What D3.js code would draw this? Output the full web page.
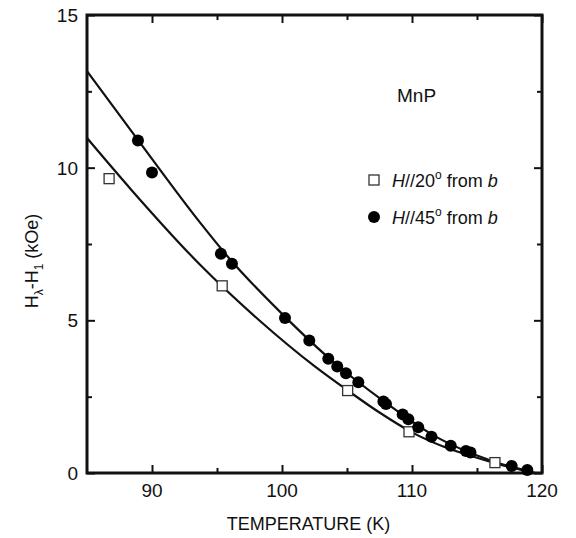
<!DOCTYPE html>
<html>
<head>
<meta charset="utf-8">
<script src="https://cdn.jsdelivr.net/npm/d3@7"></script>
<style>
  body { margin: 0; background: #fff; }
  svg text { font-family: "Liberation Sans", Arial, sans-serif; fill: #111; }
</style>
</head>
<body>
<div id="chart"></div>
<script>
// MnP  H_lambda - H_1 vs temperature

// open squares, H // 20 deg from b
var t20 = [86.7, 95.4, 105.05, 109.77, 116.38];
var h20 = [9.64, 6.13, 2.70, 1.35, 0.34];

// filled circles, H // 45 deg from b
var t45 = [88.92, 90.0, 95.3, 96.15, 100.23, 102.1, 103.56, 104.25, 104.92, 105.87,
           107.8, 108.0, 109.28, 109.72, 110.48, 111.5, 112.98, 114.15, 114.5, 117.67, 118.87];
var h45 = [10.89, 9.84, 7.18, 6.85, 5.08, 4.34, 3.74, 3.49, 3.27, 2.97,
           2.34, 2.26, 1.92, 1.76, 1.50, 1.19, 0.89, 0.72, 0.67, 0.23, 0.10];

// fitted curves
var fit45T = [85, 88.9, 93.7, 96, 100.2, 104, 108, 112, 116, 119.5];
var fit45H = [13.16, 10.92, 8.2, 7.0, 5.13, 3.62, 2.3, 1.15, 0.42, 0.0];
var fit20T = [85, 88.4, 93.7, 98.2, 102.5, 105, 107.5, 110, 112.5, 115, 117, 119];
var fit20H = [10.97, 9.28, 6.82, 5.02, 3.5, 2.72, 1.98, 1.33, 0.85, 0.5, 0.25, 0.05];

var xMajor = [90, 100, 110, 120];
var xMinor = [95, 105, 115];
var yMajor = [0, 5, 10, 15];
var yMinor = [2.5, 7.5, 12.5];

var W = 576, H = 538;
var margin = {top: 15, right: 34, bottom: 65, left: 87};
var width = W - margin.left - margin.right,
    height = H - margin.top - margin.bottom;

var svg = d3.select("#chart").append("svg")
    .attr("width", W).attr("height", H)
  .append("g")
    .attr("transform", "translate(" + margin.left + "," + margin.top + ")");

var x = d3.scaleLinear().domain([85, 120]).range([0, width]);
var y = d3.scaleLinear().domain([0, 15]).range([height, 0]);

// ticks on all four sides, pointing inwards
function tickAxis(axis, vals, size, tr) {
  var g = svg.append("g")
      .attr("transform", tr)
      .call(axis.tickValues(vals).tickSize(size).tickFormat(""));
  g.select(".domain").remove();
  g.selectAll("line").attr("stroke", "#111").attr("stroke-width", 2);
  return g;
}
tickAxis(d3.axisBottom(x), xMajor, -8, "translate(0," + height + ")");
tickAxis(d3.axisBottom(x), xMinor, -5, "translate(0," + height + ")");
tickAxis(d3.axisTop(x), xMajor, -8, "");
tickAxis(d3.axisTop(x), xMinor, -5, "");
tickAxis(d3.axisLeft(y), yMajor, -8, "");
tickAxis(d3.axisLeft(y), yMinor, -5, "");
tickAxis(d3.axisRight(y), yMajor, -8, "translate(" + width + ",0)");
tickAxis(d3.axisRight(y), yMinor, -5, "translate(" + width + ",0)");

// frame
svg.append("rect")
    .attr("width", width).attr("height", height)
    .attr("fill", "none").attr("stroke", "#111").attr("stroke-width", 3);

// tick labels
svg.selectAll(".xl").data(xMajor).enter().append("text")
    .attr("x", function(d){ return x(d); })
    .attr("y", height + 24)
    .attr("text-anchor", "middle")
    .style("font-size", "19px")
    .text(function(d){ return d; });

svg.selectAll(".yl").data(yMajor).enter().append("text")
    .attr("x", -9)
    .attr("y", function(d){ return y(d) + 7; })
    .attr("text-anchor", "end")
    .style("font-size", "19px")
    .text(function(d){ return d; });

// axis titles
svg.append("text")
    .attr("x", x(102.5) - 6)
    .attr("y", height + 57)
    .attr("text-anchor", "middle")
    .style("font-size", "18px")
    .text("TEMPERATURE (K)");

var yt = svg.append("text")
    .attr("transform", "translate(-49," + (height / 2 + 17) + ") rotate(-90)")
    .attr("text-anchor", "middle")
    .style("font-size", "18px");
yt.append("tspan").text("H");
yt.append("tspan").attr("dy", 5).style("font-size", "12px").text("λ");
yt.append("tspan").attr("dy", -5).text("-H");
yt.append("tspan").attr("dy", 5).style("font-size", "12px").text("1");
yt.append("tspan").attr("dy", -5).text(" (kOe)");

// curves
var line = d3.line()
    .x(function(d){ return x(d[0]); })
    .y(function(d){ return y(d[1]); })
    .curve(d3.curveMonotoneX);

svg.append("path")
    .datum(d3.zip(fit45T, fit45H))
    .attr("d", line)
    .attr("fill", "none").attr("stroke", "#111").attr("stroke-width", 2.2);
svg.append("path")
    .datum(d3.zip(fit20T, fit20H))
    .attr("d", line)
    .attr("fill", "none").attr("stroke", "#111").attr("stroke-width", 2.2);

// points
svg.selectAll(".sq").data(d3.zip(t20, h20)).enter().append("rect")
    .attr("x", function(d){ return x(d[0]) - 5; })
    .attr("y", function(d){ return y(d[1]) - 5; })
    .attr("width", 10).attr("height", 10)
    .attr("fill", "#fff").attr("stroke", "#333").attr("stroke-width", 1.3);

svg.selectAll(".dot").data(d3.zip(t45, h45)).enter().append("circle")
    .attr("cx", function(d){ return x(d[0]); })
    .attr("cy", function(d){ return y(d[1]); })
    .attr("r", 6)
    .attr("fill", "#000");

// legend
svg.append("text")
    .attr("x", 310).attr("y", 87)
    .style("font-size", "19px")
    .text("MnP");

svg.append("rect")
    .attr("x", 282).attr("y", 160)
    .attr("width", 10).attr("height", 10)
    .attr("fill", "#fff").attr("stroke", "#333").attr("stroke-width", 1.3);
svg.append("circle")
    .attr("cx", 287).attr("cy", 202).attr("r", 6).attr("fill", "#000");

function legendText(yy, deg) {
  var t = svg.append("text").attr("x", 305).attr("y", yy).style("font-size", "18px");
  t.append("tspan").style("font-style", "italic").text("H");
  t.append("tspan").text("//" + deg);
  t.append("tspan").attr("dy", -8).style("font-size", "12px").text("o");
  t.append("tspan").attr("dy", 8).text(" from ");
  t.append("tspan").style("font-style", "italic").text("b");
}
legendText(172, "20");
legendText(209, "45");
</script>
</body>
</html>
